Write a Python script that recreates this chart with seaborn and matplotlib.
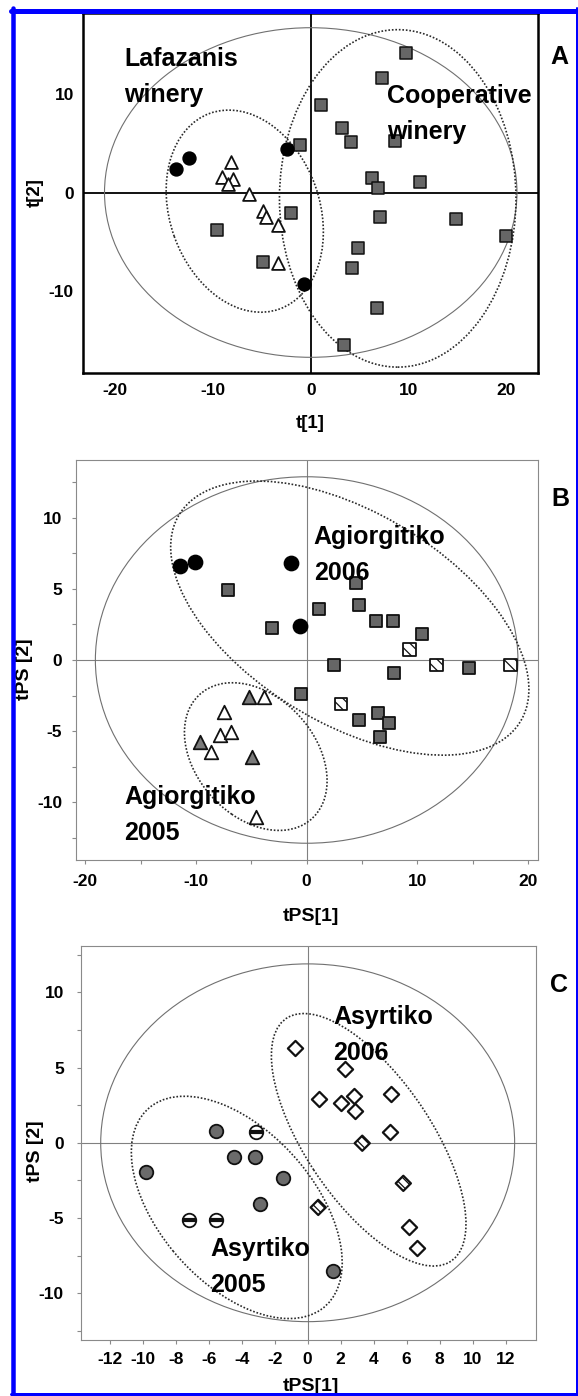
import numpy as np
import pandas as pd
import matplotlib
matplotlib.use("Agg")
import matplotlib.pyplot as plt
from matplotlib.patches import Ellipse
from matplotlib.lines import Line2D
from matplotlib.ticker import MultipleLocator
import seaborn as sns

# ---------------- Panel A data (t[1], t[2]) ----------------
a_coop_x = [9.7, 7.3, 1.1, 3.2, 4.1, 8.6, -1.1, 6.25, 6.9, 11.2, -2.0, 7.1, 14.9, 20.0, -9.6, 4.85, -4.9, 4.2, 6.8, 3.4]
a_coop_y = [14.2, 11.7, 8.9, 6.6, 5.2, 5.3, 4.8, 1.5, 0.5, 1.1, -2.1, -2.5, -2.7, -4.4, -3.8, -5.7, -7.1, -7.7, -11.8, -15.5]
a_circ_x = [-13.8, -12.5, -2.45, -0.7]
a_circ_y = [2.4, 3.5, 4.45, -9.3]
a_tri_x = [-8.2, -9.1, -7.95, -8.45, -6.3, -4.85, -4.6, -3.3, -3.3]
a_tri_y = [3.1, 1.6, 1.4, 0.9, -0.2, -1.9, -2.5, -3.3, -7.2]

# ---------------- Panel B data (tPS[1], tPS[2]) ----------------
b_circ_x = [-11.46, -10.1, -1.45, -0.63]
b_circ_y = [6.64, 6.92, 6.85, 2.39]
b_sq_x = [-7.1, -3.1, 1.1, -0.54, 4.43, 4.73, 6.24, 7.8, 10.46, 2.47, 7.9, 14.7, 4.73, 6.45, 7.4, 6.63]
b_sq_y = [4.93, 2.23, 3.57, -2.42, 5.4, 3.87, 2.75, 2.75, 1.81, -0.35, -0.89, -0.59, -4.23, -3.7, -4.46, -5.4]
b_hsq_x = [9.3, 11.75, 3.1, 18.4]
b_hsq_y = [0.75, -0.35, -3.1, -0.35]
b_tri_x = [-3.9, -7.48, -7.87, -6.8, -8.68, -4.55]
b_tri_y = [-2.6, -3.64, -5.28, -5.05, -6.5, -11.08]
b_gtri_x = [-5.2, -9.65, -4.9]
b_gtri_y = [-2.6, -5.75, -6.85]

# ---------------- Panel C data (tPS[1], tPS[2]) ----------------
c_circ_x = [-5.58, -4.47, -3.2, -9.8, -1.52, -2.89, 1.53]
c_circ_y = [0.81, -0.97, -0.93, -1.93, -2.37, -4.08, -8.55]
c_scirc_x = [-3.15, -7.2, -5.56]
c_scirc_y = [0.74, -5.15, -5.15]
c_dia_x = [-0.77, 2.26, 0.71, 2.0, 2.81, 2.87, 5.05, 4.99, 6.13, 6.63]
c_dia_y = [6.3, 4.92, 2.9, 2.63, 3.14, 2.12, 3.23, 0.7, -5.63, -6.99]
c_sdia_x = [3.31, 5.8, 0.64]
c_sdia_y = [-0.03, -2.7, -4.3]

# Confidence ellipses: (cx, cy, semi_a, semi_b, angle_deg)
a_ellipses = [(-6.75, -1.9, 10.59, 7.66, -70.4), (8.9, -0.6, 12.1, 17.2, 0.0)]
a_hotelling = (0.0, 0.0, 21.1, 16.8)
b_ellipses = [(3.9, 2.95, 17.17, 7.78, -21.9), (-4.6, -6.8, 6.89, 4.6, -28.2)]
b_hotelling = (0.0, 0.0, 19.1, 12.9)
c_ellipses = [(-4.3, -4.3, 8.5, 4.83, -53.2), (3.7, 0.2, 9.5, 3.89, -59.2)]
c_hotelling = (0.0, 0.0, 12.55, 11.9)

sns.set_theme(style="white")
plt.rcParams["font.family"] = ["Liberation Sans", "DejaVu Sans"]
plt.rcParams["font.weight"] = "bold"
plt.rcParams["axes.unicode_minus"] = False
plt.rcParams["hatch.linewidth"] = 0.9
plt.rcParams["text.color"] = "black"
plt.rcParams["axes.labelcolor"] = "black"
plt.rcParams["xtick.color"] = "black"
plt.rcParams["ytick.color"] = "black"

W, H, DPI = 578, 1396, 100
fig = plt.figure(figsize=(W / DPI, H / DPI), dpi=DPI, facecolor="white")


def px_axes(l, r, t, b):
    return fig.add_axes([l / W, 1 - b / H, (r - l) / W, (b - t) / H])


axA = px_axes(83, 537.5, 13, 373)
axB = px_axes(75.8, 537.5, 460, 860)
axC = px_axes(80.6, 536.4, 946, 1340)

SQ_FACE = "#666666"
EDGE = "#111111"


def pts(ax, xs, ys, marker, s, face, edge=EDGE, lw=1.1, hatch=None, z=4):
    df = pd.DataFrame({"x": xs, "y": ys})
    sns.scatterplot(data=df, x="x", y="y", ax=ax, marker=marker, s=s,
                    color=face, edgecolor=edge, linewidth=lw, zorder=z,
                    legend=False)
    if hatch:
        ax.collections[-1].set_hatch(hatch)


def ellipses(ax, hot, ells, hot_color="#707070"):
    cx, cy, a, b = hot
    ax.add_patch(Ellipse((cx, cy), 2 * a, 2 * b, angle=0, fill=False,
                         ec=hot_color, lw=0.8, zorder=2))
    for (cx, cy, a, b, ang) in ells:
        ax.add_patch(Ellipse((cx, cy), 2 * a, 2 * b, angle=ang, fill=False,
                             ec="#2a2a2a", lw=1.2, ls=(0, (1, 1.1)), zorder=3))


TXT = dict(fontsize=18, fontweight="bold", ha="left", va="top",
           linespacing=1.62, zorder=6, color="black")

# ---------------- Panel A ----------------
ax = axA
ax.axhline(0, color="#111111", lw=1.4, zorder=1)
ax.axvline(0, color="#111111", lw=1.4, zorder=1)
ellipses(ax, a_hotelling, a_ellipses)
pts(ax, a_coop_x, a_coop_y, "s", 75, SQ_FACE)
pts(ax, a_circ_x, a_circ_y, "o", 85, "black", edge="black")
pts(ax, a_tri_x, a_tri_y, "^", 85, "white", lw=1.3)
ax.set_xlim(-23.3, 23.2)
ax.set_ylim(-18.4, 18.3)
ax.xaxis.set_major_locator(MultipleLocator(10))
ax.xaxis.set_minor_locator(MultipleLocator(5))
ax.yaxis.set_major_locator(MultipleLocator(10))
ax.yaxis.set_minor_locator(MultipleLocator(5))
ax.tick_params(which="both", direction="in", length=3, width=0.8,
               color="#9a9a9a", labelsize=12.5, labelcolor="black")
ax.tick_params(axis="x", pad=7)
ax.tick_params(axis="y", pad=6.5)
for sp in ax.spines.values():
    sp.set_color("black")
    sp.set_linewidth(1.8)
ax.text(-19.1, 14.86, "Lafazanis\nwinery", **TXT)
ax.text(7.76, 11.02, "Cooperative\nwinery", **TXT)
ax.set_xlabel("t[1]", fontsize=13.5, fontweight="bold", color="black")
ax.set_ylabel("t[2]", fontsize=13.5, fontweight="bold", color="black")
ax.xaxis.set_label_coords(0.5, -0.14)
ax.yaxis.set_label_coords(-0.1045, 0.5)

# ---------------- Panel B ----------------
ax = axB
ax.axhline(0, color="#808080", lw=0.8, zorder=1)
ax.axvline(0, color="#808080", lw=0.8, zorder=1)
ellipses(ax, b_hotelling, b_ellipses)
pts(ax, b_sq_x, b_sq_y, "s", 85, SQ_FACE, lw=1.3)
pts(ax, b_hsq_x, b_hsq_y, "s", 85, "white", lw=1.3, hatch="\\\\\\")
pts(ax, b_circ_x, b_circ_y, "o", 105, "black", edge="black")
pts(ax, b_tri_x, b_tri_y, "^", 95, "white", lw=1.3)
pts(ax, b_gtri_x, b_gtri_y, "^", 95, "#7a7a7a", lw=1.3)
ax.set_xlim(-20.87, 20.87)
ax.set_ylim(-14.08, 14.08)
ax.xaxis.set_major_locator(MultipleLocator(10))
ax.xaxis.set_minor_locator(MultipleLocator(5))
ax.yaxis.set_major_locator(MultipleLocator(5))
ax.yaxis.set_minor_locator(MultipleLocator(2.5))
ax.tick_params(which="both", direction="out", length=3, width=0.8,
               color="#8a8a8a", labelsize=12.5, labelcolor="black",
               bottom=True, left=True)
ax.tick_params(axis="x", pad=7)
ax.tick_params(axis="y", pad=6.8)
for sp in ax.spines.values():
    sp.set_color("#8a8a8a")
    sp.set_linewidth(0.8)
ax.text(0.65, 9.5, "Agiorgitiko\n2006", **TXT)
ax.text(-16.5, -8.8, "Agiorgitiko\n2005", **TXT)
ax.set_xlabel("tPS[1]", fontsize=14, fontweight="bold", color="black")
ax.set_ylabel("tPS [2]", fontsize=14, fontweight="bold", color="black")
ax.xaxis.set_label_coords(0.509, -0.142)
ax.yaxis.set_label_coords(-0.112, 0.4775)

# ---------------- Panel C ----------------
ax = axC
ax.axhline(0, color="#808080", lw=0.8, zorder=1)
ax.axvline(0, color="#808080", lw=0.8, zorder=1)
ellipses(ax, c_hotelling, c_ellipses)
pts(ax, c_circ_x, c_circ_y, "o", 95, "#6b6b6b", lw=1.3)
pts(ax, c_scirc_x, c_scirc_y, "o", 95, "white", lw=1.3)
ax.scatter(c_scirc_x, c_scirc_y, marker="_", s=95, c="#111111",
           linewidths=3.0, zorder=5)
pts(ax, c_dia_x, c_dia_y, "D", 60, "white", lw=1.6)
pts(ax, c_sdia_x, c_sdia_y, "D", 60, "white", lw=1.6, hatch="\\\\\\\\")
ax.set_xlim(-13.77, 13.87)
ax.set_ylim(-13.12, 13.09)
ax.xaxis.set_major_locator(MultipleLocator(2))
ax.yaxis.set_major_locator(MultipleLocator(5))
ax.yaxis.set_minor_locator(MultipleLocator(2.5))
ax.tick_params(which="both", direction="out", length=3, width=0.8,
               color="#8a8a8a", labelsize=12.5, labelcolor="black",
               bottom=True, left=True)
ax.tick_params(axis="x", pad=6)
ax.tick_params(axis="y", pad=9)
for sp in ax.spines.values():
    sp.set_color("#8a8a8a")
    sp.set_linewidth(0.8)
ax.text(1.53, 9.17, "Asyrtiko\n2006", **TXT)
ax.text(-5.92, -6.25, "Asyrtiko\n2005", **TXT)
ax.set_xlabel("tPS[1]", fontsize=14, fontweight="bold", color="black")
ax.set_ylabel("tPS [2]", fontsize=14, fontweight="bold", color="black")
ax.xaxis.set_label_coords(0.505, -0.1185)
ax.yaxis.set_label_coords(-0.1, 0.48)

for axx in (axA, axB, axC):
    axx.xaxis.label.set_va("center")
    axx.yaxis.label.set_va("center")
    axx.yaxis.label.set_ha("center")

# Panel letters
for letter, (lx, ly) in zip(["A", "B", "C"], [(550, 45), (551, 487), (550, 973)]):
    fig.text(lx / W, 1 - ly / H, letter, fontsize=18, fontweight="bold",
             ha="left", va="top", color="black")

# Blue frame around the figure
BLUE = "#0000ff"
fig.add_artist(Line2D([13.3 / W, 13.3 / W], [0, 1 - 8 / H], color=BLUE,
                      lw=4.5 * 0.72, transform=fig.transFigure))
fig.add_artist(Line2D([11 / W, 1], [1 - 10.8 / H, 1 - 10.8 / H], color=BLUE,
                      lw=5 * 0.72, transform=fig.transFigure))
fig.add_artist(Line2D([576.8 / W, 576.8 / W], [0, 1 - 8 / H], color=BLUE,
                      lw=2 * 0.72, transform=fig.transFigure))
fig.add_artist(Line2D([11 / W, 1], [1.6 / H, 1.6 / H], color=BLUE,
                      lw=3 * 0.72, transform=fig.transFigure))

fig.savefig("out.png", dpi=DPI, facecolor="white")
